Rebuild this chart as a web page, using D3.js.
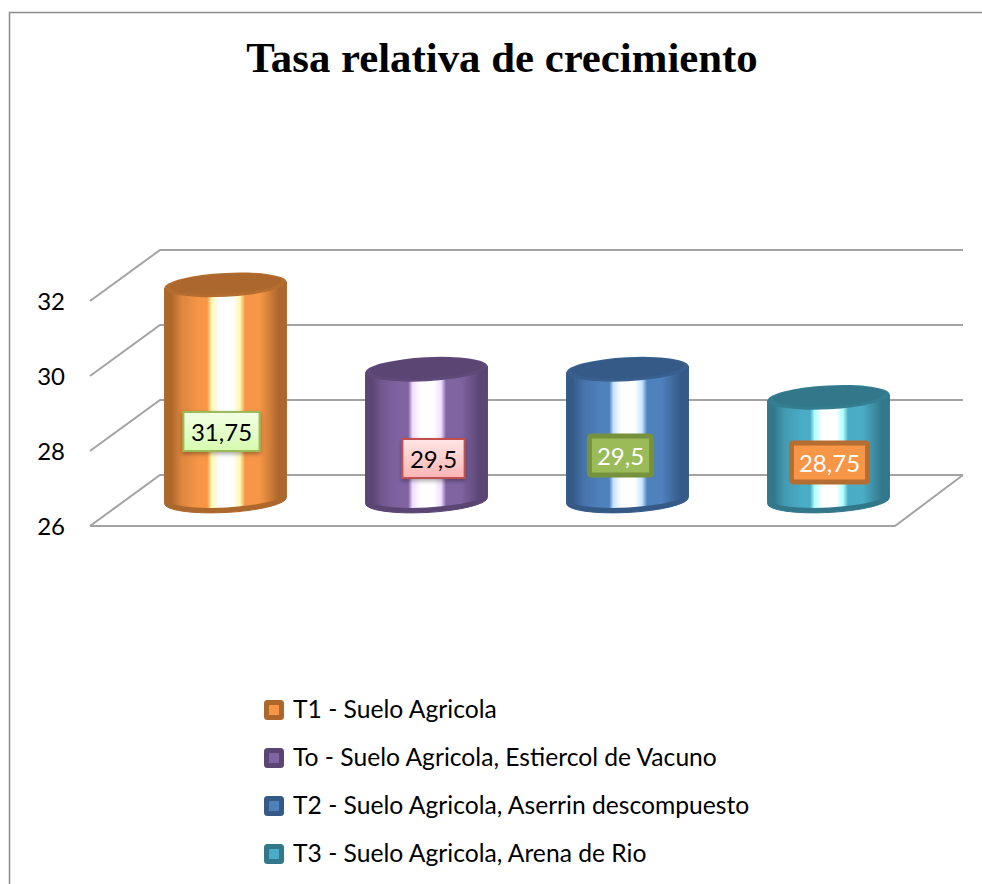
<!DOCTYPE html>
<html>
<head>
<meta charset="utf-8">
<script src="https://d3js.org/d3.v7.min.js"></script>
<style>
  html, body { margin: 0; padding: 0; background: #fff; }
  svg { display: block; }
</style>
</head>
<body>
<script>
// DATA
const categories = ["T1 - Suelo Agricola", "To - Suelo Agricola, Estiercol de Vacuno", "T2 - Suelo Agricola, Aserrin descompuesto", "T3 - Suelo Agricola, Arena de Rio"];
const values = [31.75, 29.5, 29.5, 28.75];
const valueLabels = ["31,75", "29,5", "29,5", "28,75"];
const yTicks = [26, 28, 30, 32];

// COLOURS
const baseColors = ["#f79646", "#8064a2", "#4f81bd", "#4bacc6"];
const darkColors = ["#ab672c", "#5a4573", "#355a88", "#32788a"];
const glowColors = ["#fff7b0", "#f0dcff", "#c4e4ff", "#b0ffff"];
const labelFill = ["url(#lab0)", "url(#lab1)", "#9bbb59", "#f79646"];
const labelStroke = ["#9bbb59", "#c0504d", "#76923c", "#b66d31"];
const labelStrokeWidth = [2, 2, 5, 5];
const labelText = ["#000", "#000", "#fff", "#fff"];
const labelDx = [-4, 7, -7, 1];
const labelDy = [-69, -42, -45, -38];

// SIZE AND SCALES
const WIDTH = 982;
const HEIGHT = 884;
const DEPTH_X = 70, DEPTH_Y = -51;
const CYL_RX = 61, CYL_RY = 12, TILT = -3;
const y = d3.scaleLinear().domain([26, 32]).range([526, 301]);
// cylinders stand halfway along the depth of the floor
const yMid = v => y(v) + DEPTH_Y / 2;
const x = d3.scaleBand().domain(d3.range(categories.length)).range([125, 929]);

const svg = d3.select("body").append("svg").attr("width", WIDTH).attr("height", HEIGHT);
const defs = svg.append("defs");

baseColors.forEach((c, i) => {
  const g = defs.append("linearGradient").attr("id", "cyl" + i);
  const stops = [
    [0, darkColors[i]], [0.05, darkColors[i]], [0.14, d3.interpolateRgb(darkColors[i], c)(0.65)],
    [0.28, c], [0.35, c], [0.385, glowColors[i]], [0.45, "#fff"], [0.56, "#fff"],
    [0.62, glowColors[i]], [0.66, c], [0.78, c], [0.94, darkColors[i]], [1, darkColors[i]]
  ];
  g.selectAll("stop").data(stops).enter().append("stop")
    .attr("offset", d => d[0]).attr("stop-color", d => d[1]);
});

const lab0 = defs.append("linearGradient").attr("id", "lab0").attr("x2", 0).attr("y2", 1);
lab0.append("stop").attr("offset", 0).attr("stop-color", "#f2ffe6");
lab0.append("stop").attr("offset", 1).attr("stop-color", "#d6fbae");
const lab1 = defs.append("linearGradient").attr("id", "lab1").attr("x2", 0).attr("y2", 1);
lab1.append("stop").attr("offset", 0).attr("stop-color", "#ffe6e6");
lab1.append("stop").attr("offset", 1).attr("stop-color", "#ffb4b4");

const shadow = defs.append("filter").attr("id", "shadow")
  .attr("x", "-20%").attr("y", "-20%").attr("width", "140%").attr("height", "150%");
shadow.append("feDropShadow").attr("dx", 0).attr("dy", 2).attr("stdDeviation", 2)
  .attr("flood-color", "#000").attr("flood-opacity", 0.35);

// FRAME
svg.append("path")
  .attr("d", `M${WIDTH},12.5H9.5V${HEIGHT}`)
  .attr("fill", "none").attr("stroke", "#8c8c8c").attr("stroke-width", 1.5);

// TITLE
svg.append("text")
  .attr("x", 502).attr("y", 72).attr("text-anchor", "middle")
  .attr("font-family", "'Liberation Serif', serif").attr("font-weight", "bold").attr("font-size", 42.8)
  .text("Tasa relativa de crecimiento");

// GRID
const gridLine = d3.line();
svg.append("g").selectAll("path").data(yTicks).enter().append("path")
  .attr("d", v => gridLine([[90, y(v)], [90 + DEPTH_X, y(v) + DEPTH_Y], [963, y(v) + DEPTH_Y]]))
  .attr("fill", "none").attr("stroke", "#a3a3a3").attr("stroke-width", 2);
svg.append("path")
  .attr("d", gridLine([[90, y(26)], [895, y(26)], [895 + 68, y(26) + DEPTH_Y]]))
  .attr("fill", "none").attr("stroke", "#a3a3a3").attr("stroke-width", 2);

// AXIS
const axis = svg.append("g").attr("transform", "translate(74,1)")
  .call(d3.axisLeft(y).tickValues(yTicks).tickFormat(d3.format("d")).tickSize(0).tickPadding(9));
axis.select(".domain").remove();
axis.selectAll("text")
  .attr("font-family", "Lato, sans-serif").attr("font-size", 24).attr("fill", "#000");

// CYLINDERS
const rad = TILT * Math.PI / 180;
const ex = CYL_RX * Math.cos(rad), ey = CYL_RX * Math.sin(rad);

const bodyPath = (cx, top, bottom) =>
  `M${cx - ex},${top - ey}L${cx - ex},${bottom - ey}` +
  `A${CYL_RX},${CYL_RY} ${TILT} 0 0 ${cx + ex},${bottom + ey}` +
  `L${cx + ex},${top + ey}Z`;

const bars = svg.append("g").selectAll("g").data(values).enter().append("g");
const cxOf = i => x(i) + x.bandwidth() / 2;

bars.append("path")
  .attr("d", (d, i) => bodyPath(cxOf(i), yMid(d), yMid(26)))
  .attr("fill", (d, i) => darkColors[i])
  .attr("stroke", (d, i) => darkColors[i]).attr("stroke-width", 1);
bars.append("path")
  .attr("d", (d, i) => bodyPath(cxOf(i), yMid(d), yMid(26) - 5))
  .attr("fill", (d, i) => `url(#cyl${i})`);
bars.append("ellipse")
  .attr("rx", CYL_RX).attr("ry", CYL_RY)
  .attr("transform", (d, i) => `translate(${cxOf(i)},${yMid(d)}) rotate(${TILT})`)
  .attr("fill", (d, i) => d3.interpolateRgb(darkColors[i], baseColors[i])(0.12));
bars.append("ellipse")
  .attr("rx", CYL_RX - 5).attr("ry", CYL_RY - 2)
  .attr("transform", (d, i) => `translate(${cxOf(i)},${yMid(d) - 1}) rotate(${TILT})`)
  .attr("fill", (d, i) => darkColors[i]);

// VALUE LABELS
const labels = svg.append("g").selectAll("g").data(values).enter().append("g")
  .attr("transform", (d, i) => `translate(${cxOf(i) + labelDx[i]},${yMid(26) + labelDy[i]})`);
const labelBox = labels.append("rect")
  .attr("fill", (d, i) => labelFill[i])
  .attr("stroke", (d, i) => labelStroke[i])
  .attr("stroke-width", (d, i) => labelStrokeWidth[i])
  .attr("rx", (d, i) => labelStrokeWidth[i] > 2 ? 2 : 0)
  .attr("filter", (d, i) => labelStrokeWidth[i] > 2 ? null : "url(#shadow)");
const labelTexts = labels.append("text")
  .attr("text-anchor", "middle").attr("y", 9)
  .attr("font-family", "Lato, sans-serif").attr("font-size", 24)
  .attr("fill", (d, i) => labelText[i])
  .text((d, i) => valueLabels[i]);
labelBox.each(function (d, i) {
  const w = labelTexts.nodes()[i].getComputedTextLength() + 15;
  const h = 39;
  d3.select(this).attr("x", -w / 2).attr("y", -h / 2).attr("width", w).attr("height", h);
});

// LEGEND
const legendY = d3.scalePoint().domain(d3.range(categories.length)).range([710, 854]);
const legend = svg.append("g").selectAll("g").data(categories).enter().append("g")
  .attr("transform", (d, i) => `translate(264,${legendY(i)})`);
legend.append("rect")
  .attr("x", 2.5).attr("y", -7.5).attr("width", 15).attr("height", 15).attr("rx", 1)
  .attr("fill", (d, i) => baseColors[i])
  .attr("stroke", (d, i) => darkColors[i]).attr("stroke-width", 5);
legend.append("text")
  .attr("x", 29).attr("y", 8)
  .attr("font-family", "Lato, sans-serif").attr("font-size", 24.65).attr("fill", "#000")
  .text(d => d);
</script>
</body>
</html>
